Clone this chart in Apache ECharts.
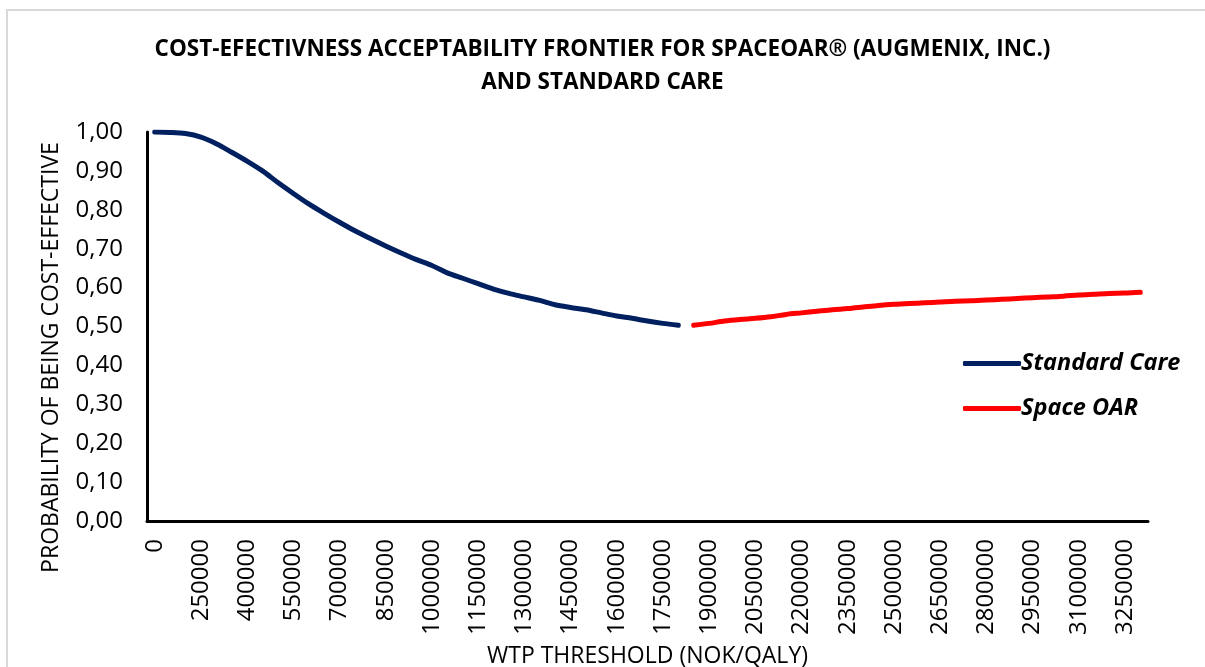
<!DOCTYPE html>
<html>
<head>
<meta charset="utf-8">
<script src="https://cdn.jsdelivr.net/npm/echarts@6/dist/echarts.min.js"></script>
<style>
  html, body { margin: 0; padding: 0; background: #fff; overflow: hidden; }
  #frame {
    position: absolute; left: 6px; top: 9px; width: 1300px; height: 800px;
    border: 2px solid #d9d9d9; box-sizing: border-box; pointer-events: none;
  }
  #chart { position: absolute; left: 0; top: 0; width: 1205px; height: 667px; }
</style>
</head>
<body>
<div id="chart"></div>
<div id="frame"></div>
<script>
// WTP thresholds (NOK/QALY) on the category axis
const wtp = [
  0, 150000, 200000, 250000, 300000, 350000, 400000, 450000, 500000, 550000,
  600000, 650000, 700000, 750000, 800000, 850000, 900000, 950000, 1000000, 1050000,
  1100000, 1150000, 1200000, 1250000, 1300000, 1350000, 1400000, 1450000, 1500000, 1550000,
  1600000, 1650000, 1700000, 1750000, 1800000, 1850000, 1900000, 1950000, 2000000, 2050000,
  2100000, 2150000, 2200000, 2250000, 2300000, 2350000, 2400000, 2450000, 2500000, 2550000,
  2600000, 2650000, 2700000, 2750000, 2800000, 2850000, 2900000, 2950000, 3000000, 3050000,
  3100000, 3150000, 3200000, 3250000, 3300000
];

// frontier: Standard Care from 0 to 1800000
const standardCare = [
  1.000, 0.999, 0.996, 0.987, 0.970, 0.948, 0.925, 0.900, 0.870, 0.842,
  0.815, 0.791, 0.768, 0.746, 0.726, 0.707, 0.689, 0.672, 0.657, 0.638,
  0.624, 0.610, 0.596, 0.585, 0.576, 0.567, 0.556, 0.549, 0.543, 0.535,
  0.527, 0.521, 0.514, 0.508, 0.503
];

// frontier: SpaceOAR from 1850000 to 3300000
const spaceOar = [
  0.503, 0.508, 0.514, 0.518, 0.521, 0.525, 0.531, 0.535, 0.539, 0.543,
  0.546, 0.550, 0.554, 0.557, 0.559, 0.561, 0.563, 0.565, 0.566, 0.568,
  0.570, 0.572, 0.574, 0.576, 0.578, 0.581, 0.583, 0.585, 0.586, 0.588
];

const yTicks = [0, 0.1, 0.2, 0.3, 0.4, 0.5, 0.6, 0.7, 0.8, 0.9, 1.0];

const blueData = wtp.map((w, i) => i < standardCare.length ? standardCare[i] : null);
const redData = wtp.map((w, i) => i >= standardCare.length ? spaceOar[i - standardCare.length] : null);

const FONT = 'Open Sans';
const chart = echarts.init(document.getElementById('chart'));
chart.setOption({
  animation: false,
  title: {
    text: 'COST-EFECTIVNESS ACCEPTABILITY FRONTIER FOR SPACEOAR® (AUGMENIX, INC.)\nAND STANDARD CARE',
    left: 'center',
    top: 28,
    textStyle: { fontFamily: FONT, fontSize: 22.5, fontWeight: 'bold', color: '#000', lineHeight: 33 }
  },
  legend: {
    orient: 'vertical',
    left: 958,
    top: 347,
    itemWidth: 58,
    itemHeight: 5,
    itemGap: 22,
    icon: 'roundRect',
    textStyle: { fontFamily: FONT, fontSize: 23.5, fontWeight: 'bold', fontStyle: 'italic', color: '#000', padding: [0, 0, 0, -5] },
    data: ['Standard Care', 'Space OAR']
  },
  grid: { left: 147, right: 57, top: 132, bottom: 146, containLabel: false, outerBoundsMode: 'none' },
  xAxis: {
    type: 'category',
    data: wtp,
    boundaryGap: true,
    name: 'WTP THRESHOLD (NOK/QALY)',
    nameLocation: 'middle',
    nameGap: 124,
    nameTextStyle: { fontFamily: FONT, fontSize: 23, color: '#000' },
    axisLine: { lineStyle: { color: '#000', width: 3 } },
    axisTick: { show: false },
    axisLabel: {
      interval: 2, rotate: 90, margin: 18,
      fontFamily: FONT, fontSize: 24, color: '#000'
    },
    splitLine: { show: false }
  },
  yAxis: {
    type: 'value',
    min: 0, max: 1, interval: 0.1,
    name: 'PROBABILITY OF BEING COST-EFFECTIVE',
    nameLocation: 'middle',
    nameGap: 84,
    nameTextStyle: { fontFamily: FONT, fontSize: 23, color: '#000', padding: [0, 62, 0, 0] },
    axisLine: { show: true, lineStyle: { color: '#000', width: 3 } },
    axisTick: { show: false },
    axisLabel: {
      margin: 24, fontFamily: FONT, fontSize: 24, color: '#000',
      formatter: v => yTicks.some(t => Math.abs(t - v) < 1e-9) ? v.toFixed(2).replace('.', ',') : ''
    },
    splitLine: { show: false }
  },
  series: [
    {
      name: 'Standard Care', type: 'line', data: blueData,
      symbol: 'none', smooth: 0.3, color: '#002060',
      lineStyle: { width: 5, color: '#002060', cap: 'round', join: 'round' }
    },
    {
      name: 'Space OAR', type: 'line', data: redData,
      symbol: 'none', smooth: 0.3, color: '#ff0000',
      lineStyle: { width: 5, color: '#ff0000', cap: 'round', join: 'round' }
    }
  ]
});
</script>
</body>
</html>
